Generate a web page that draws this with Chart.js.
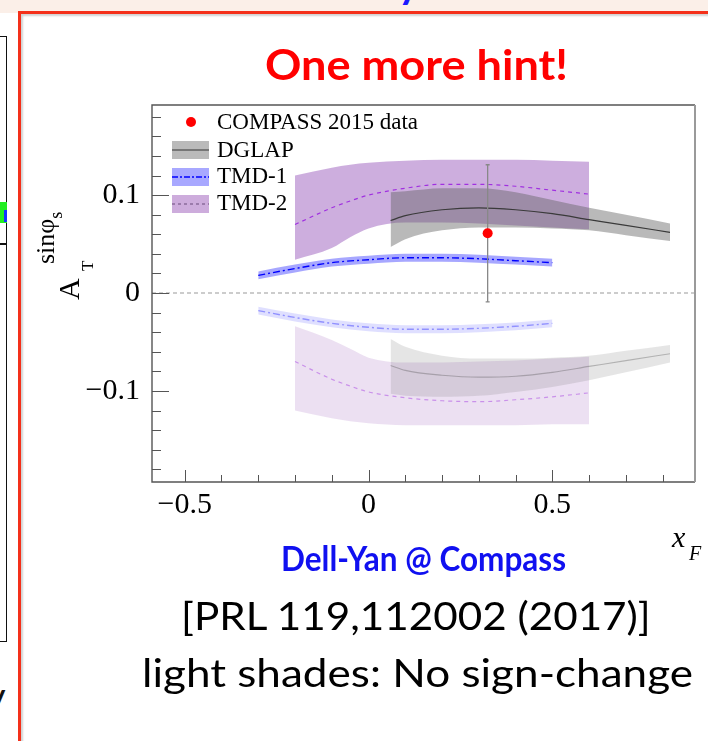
<!DOCTYPE html>
<html>
<head>
<meta charset="utf-8">
<script src="https://cdn.jsdelivr.net/npm/chart.js@4.4.1/dist/chart.umd.min.js"></script>
<style>
  body { margin: 0; width: 708px; height: 741px; position: relative; overflow: hidden; background: #fff; font-family: Lato, sans-serif; }
  .strip { position: absolute; left: 0; top: 0; width: 708px; height: 13px; background: #fbefe8; }
  .redbox { position: absolute; left: 18px; top: 11px; width: 720px; height: 760px; border-left: 3.5px solid #f4301a; border-top: 3.5px solid #f4301a; box-shadow: inset 2px 2px 2px rgba(0,0,0,0.18); }
  .leftframe { position: absolute; left: -4px; top: 36px; width: 9px; height: 604px; border: 1.8px solid #111; }
  .mark-green { position: absolute; left: 0; top: 202px; width: 7px; height: 21px; background: #22ee22; }
  .mark-blue { position: absolute; left: 4px; top: 210px; width: 3px; height: 12px; background: #1533ff; }
  .mark-line { position: absolute; left: 0; top: 243px; width: 7px; height: 2px; background: #111; }
  .cut { position: absolute; font: bold 40px Lato, sans-serif; line-height: 40px; white-space: nowrap; }
  #chart { position: absolute; left: 0; top: 0; }
  .txt { position: absolute; white-space: nowrap; transform-origin: 0 0; }
  .serif { font-family: "Liberation Serif", "Times New Roman", serif; position: absolute; white-space: nowrap; line-height: 1; color: #000; }
  .ytitle { position: absolute; left: 0; top: 300px; width: 110px; height: 100px; transform-origin: 0 0; transform: rotate(-90deg); }
  .legend .sw { position: absolute; }
</style>
</head>
<body>
<div class="strip"></div>
<div class="cut" style="left:398px; top:-37px; color:#1a1aff;">y</div>
<div class="redbox"></div>
<div class="leftframe"></div>
<div class="mark-green"></div>
<div class="mark-blue"></div>
<div class="mark-line"></div>
<div class="cut" style="left:-15px; top:676px; color:#111; font-weight:normal;">y</div>

<canvas id="chart" width="708" height="741"></canvas>

<div id="title" class="txt" style="color:#ff0000; font-weight:bold;">One more hint!</div>
<div id="sub1" class="txt" style="color:#1010f0; font-weight:bold;">Dell-Yan @ Compass</div>
<div id="sub2" class="txt" style="color:#000;">[PRL 119,112002 (2017)]</div>
<div id="sub3" class="txt" style="color:#000;">light shades: No sign-change</div>

<div class="ytitle">
  <span class="serif" style="left:0; top:54px; font-size:30px;">A</span>
  <span class="serif" style="left:29px; top:79px; font-size:17px;">T</span>
  <span class="serif" style="left:36px; top:33px; font-size:26px;">sinφ<span style="position:relative; top:8px; font-size:18px;">s</span></span>
</div>
<span class="serif" style="left:672px; top:522px; font-size:30px; font-style:italic;">x</span>
<span class="serif" style="left:689px; top:543px; font-size:20px; font-style:italic;">F</span>

<div class="legend">
  <svg class="sw" style="left:184px; top:115px;" width="14" height="14"><circle cx="7" cy="7" r="5" fill="#ff0000"/></svg>
  <span class="serif" style="left:217px; top:110px; font-size:23px;">COMPASS 2015 data</span>
  <svg class="sw" style="left:172px; top:141px;" width="37" height="18"><rect width="37" height="18" fill="#bababa"/><line x1="0" y1="9" x2="37" y2="9" stroke="#333" stroke-width="1.2"/></svg>
  <span class="serif" style="left:217px; top:138px; font-size:23px;">DGLAP</span>
  <svg class="sw" style="left:172px; top:168px;" width="37" height="18"><rect width="37" height="18" fill="#a8a8ff"/><line x1="0" y1="9" x2="37" y2="9" stroke="#0000ff" stroke-width="1.3" stroke-dasharray="6,2,2,2"/></svg>
  <span class="serif" style="left:217px; top:164px; font-size:23px;">TMD-1</span>
  <svg class="sw" style="left:172px; top:195px;" width="37" height="18"><rect width="37" height="18" fill="#cdacdc"/><line x1="0" y1="9" x2="37" y2="9" stroke="#6a4a7a" stroke-width="1.2" stroke-dasharray="3,3"/></svg>
  <span class="serif" style="left:217px; top:191px; font-size:23px;">TMD-2</span>
</div>

<script>
// measured data point
const compassX = [0.324];
const compassY = [0.061];
const compassErr = [0.07];

// DGLAP band (dark: sign change, light: no sign change)
const dglapX = [0.06, 0.1, 0.2, 0.3, 0.4, 0.5, 0.6, 0.7, 0.82];
const dglapMid = [0.074, 0.079, 0.085, 0.087, 0.085, 0.081, 0.075, 0.069, 0.062];
const dglapUp = [0.103, 0.104, 0.107, 0.107, 0.103, 0.095, 0.087, 0.080, 0.071];
const dglapLo = [0.047, 0.055, 0.064, 0.067, 0.067, 0.066, 0.064, 0.059, 0.053];
const dglapLightMid = [-0.074, -0.079, -0.084, -0.086, -0.085, -0.081, -0.075, -0.069, -0.062];
const dglapLightUp = [-0.047, -0.055, -0.064, -0.067, -0.067, -0.066, -0.064, -0.059, -0.053];
const dglapLightLo = [-0.103, -0.105, -0.106, -0.105, -0.101, -0.096, -0.089, -0.081, -0.071];

// TMD-1 band
const tmd1X = [-0.3, -0.2, -0.1, 0, 0.1, 0.2, 0.3, 0.4, 0.5];
const tmd1Mid = [0.018, 0.025, 0.031, 0.034, 0.036, 0.036, 0.035, 0.033, 0.031];
const tmd1Up = [0.022, 0.029, 0.035, 0.038, 0.040, 0.040, 0.039, 0.037, 0.035];
const tmd1Lo = [0.014, 0.021, 0.027, 0.030, 0.032, 0.032, 0.031, 0.029, 0.027];
const tmd1LightMid = [-0.018, -0.025, -0.031, -0.035, -0.037, -0.037, -0.036, -0.034, -0.031];
const tmd1LightUp = [-0.014, -0.021, -0.027, -0.031, -0.033, -0.033, -0.032, -0.030, -0.027];
const tmd1LightLo = [-0.022, -0.029, -0.035, -0.039, -0.041, -0.041, -0.040, -0.038, -0.035];

// TMD-2 band
const tmd2X = [-0.2, -0.1, -0.05, 0, 0.1, 0.2, 0.3, 0.4, 0.5, 0.6];
const tmd2Mid = [0.070, 0.087, 0.094, 0.100, 0.107, 0.111, 0.111, 0.109, 0.105, 0.101];
const tmd2Up = [0.120, 0.128, 0.131, 0.133, 0.135, 0.136, 0.136, 0.136, 0.135, 0.134];
const tmd2Lo = [0.034, 0.046, 0.057, 0.066, 0.072, 0.072, 0.071, 0.069, 0.067, 0.065];
const tmd2LightMid = [-0.070, -0.088, -0.095, -0.101, -0.107, -0.110, -0.111, -0.109, -0.106, -0.102];
const tmd2LightUp = [-0.034, -0.048, -0.057, -0.066, -0.071, -0.071, -0.070, -0.069, -0.067, -0.065];
const tmd2LightLo = [-0.120, -0.128, -0.131, -0.133, -0.135, -0.135, -0.135, -0.135, -0.134, -0.134];

// axes
const xTicks = [-0.5, 0, 0.5];
const xTickLabels = ['\u22120.5', '0', '0.5'];
const yTicks = [-0.1, 0, 0.1];
const yTickLabels = ['\u22120.1', '0', '0.1'];
const xMinor = [-0.5, -0.4, -0.3, -0.2, -0.1, 0, 0.1, 0.2, 0.3, 0.4, 0.5, 0.6, 0.7, 0.8];
const yMinor = [-0.18, -0.16, -0.14, -0.12, -0.1, -0.08, -0.06, -0.04, -0.02, 0, 0.02, 0.04, 0.06, 0.08, 0.1, 0.12, 0.14, 0.16, 0.18];

const pts = (xs, ys) => xs.map((v, i) => ({ x: v, y: ys[i] }));

// size text by cap height, then squeeze to the width seen on the slide
function fitText(id, weight, width, cap, cx, baseline) {
    const el = document.getElementById(id);
    const fs = cap / 0.7165;
    const c = document.createElement('canvas').getContext('2d');
    c.font = weight + ' ' + fs + 'px Lato';
    const m = c.measureText(el.textContent);
    const asc = m.fontBoundingBoxAscent;
    const desc = m.fontBoundingBoxDescent;
    el.style.fontSize = fs + 'px';
    el.style.lineHeight = fs + 'px';
    el.style.left = (cx - width / 2) + 'px';
    el.style.top = (baseline - ((fs - asc - desc) / 2 + asc)) + 'px';
    el.style.transform = 'scaleX(' + (width / m.width) + ')';
}

document.addEventListener('DOMContentLoaded', () => {
    fitText('title', 'bold', 303, 30, 416.5, 81);
    fitText('sub1', 'bold', 285, 25, 423.5, 572);
    fitText('sub2', 'normal', 471, 27, 416.5, 630);
    fitText('sub3', 'normal', 551, 28, 417.5, 687);

    function line(xs, ys, color, dash, width) {
        return { data: pts(xs, ys), borderColor: color, borderDash: dash, borderWidth: width,
                 pointRadius: 0, fill: false, cubicInterpolationMode: 'monotone' };
    }
    function edge(xs, ys, fillColor, withFill) {
        return { data: pts(xs, ys), borderWidth: 0, borderColor: 'rgba(0,0,0,0)', pointRadius: 0,
                 backgroundColor: fillColor, fill: withFill ? '+1' : false, cubicInterpolationMode: 'monotone' };
    }

    const datasets = [
        { label: 'COMPASS', data: pts(compassX, compassY), showLine: false, pointRadius: 5,
          pointBackgroundColor: '#ff0000', pointBorderWidth: 0 },
        line(tmd1X, tmd1Mid, '#0000ff', [7, 3, 2, 3], 1.4),
        edge(tmd1X, tmd1Up, 'rgba(80,80,255,0.5)', true),
        edge(tmd1X, tmd1Lo, null, false),
        line(dglapX, dglapMid, '#3a3a3a', [], 1.2),
        edge(dglapX, dglapUp, 'rgba(100,100,100,0.45)', true),
        edge(dglapX, dglapLo, null, false),
        line(tmd2X, tmd2Mid, '#a030e0', [4, 4], 1.2),
        edge(tmd2X, tmd2Up, 'rgba(150,85,185,0.48)', true),
        edge(tmd2X, tmd2Lo, null, false),
        line(tmd1X, tmd1LightMid, 'rgba(0,0,255,0.35)', [7, 3, 2, 3], 1.4),
        edge(tmd1X, tmd1LightUp, 'rgba(80,80,255,0.18)', true),
        edge(tmd1X, tmd1LightLo, null, false),
        line(dglapX, dglapLightMid, 'rgba(60,60,60,0.3)', [], 1.2),
        edge(dglapX, dglapLightUp, 'rgba(100,100,100,0.17)', true),
        edge(dglapX, dglapLightLo, null, false),
        line(tmd2X, tmd2LightMid, 'rgba(160,48,224,0.45)', [4, 4], 1.2),
        edge(tmd2X, tmd2LightUp, 'rgba(150,85,185,0.18)', true),
        edge(tmd2X, tmd2LightLo, null, false)
    ];

    const framePlugin = {
        id: 'frame',
        beforeDatasetsDraw(chart) {
            const { ctx, chartArea: a, scales: { y } } = chart;
            const y0 = y.getPixelForValue(0);
            ctx.save();
            ctx.strokeStyle = '#999';
            ctx.lineWidth = 1;
            ctx.setLineDash([4, 3]);
            ctx.beginPath();
            ctx.moveTo(a.left, y0);
            ctx.lineTo(a.right, y0);
            ctx.stroke();
            ctx.restore();
        },
        beforeDatasetDraw(chart, args) {
            if (args.index !== 0) return;
            const { ctx, scales: { x, y } } = chart;
            ctx.save();
            ctx.strokeStyle = '#888';
            ctx.lineWidth = 1.3;
            compassX.forEach((v, i) => {
                const px = x.getPixelForValue(v);
                const top = y.getPixelForValue(compassY[i] + compassErr[i]);
                const bot = y.getPixelForValue(compassY[i] - compassErr[i]);
                ctx.beginPath();
                ctx.moveTo(px, top);
                ctx.lineTo(px, bot);
                ctx.moveTo(px - 2, top);
                ctx.lineTo(px + 2, top);
                ctx.moveTo(px - 2, bot);
                ctx.lineTo(px + 2, bot);
                ctx.stroke();
            });
            ctx.restore();
        },
        afterDatasetsDraw(chart) {
            const { ctx, chartArea: a, scales: { x, y } } = chart;
            ctx.save();
            ctx.strokeStyle = '#555';
            ctx.lineWidth = 1;
            ctx.beginPath();
            xMinor.forEach(v => {
                const px = Math.round(x.getPixelForValue(v)) + 0.5;
                const len = xTicks.includes(v) ? 12 : 7;
                ctx.moveTo(px, a.bottom);
                ctx.lineTo(px, a.bottom - len);
            });
            yMinor.forEach(v => {
                const py = Math.round(y.getPixelForValue(v)) + 0.5;
                const len = yTicks.includes(v) ? 17 : 9;
                ctx.moveTo(a.left, py);
                ctx.lineTo(a.left + len, py);
            });
            ctx.stroke();
            ctx.lineWidth = 1.4;
            ctx.strokeStyle = '#555';
            ctx.beginPath();
            ctx.moveTo(a.right, a.top);
            ctx.lineTo(a.left, a.top);
            ctx.lineTo(a.left, a.bottom);
            ctx.lineTo(a.right, a.bottom);
            ctx.stroke();
            ctx.strokeStyle = '#9a9a9a';
            ctx.lineWidth = 2;
            ctx.beginPath();
            ctx.moveTo(a.right, a.top);
            ctx.lineTo(a.right, a.bottom);
            ctx.stroke();
            ctx.restore();
        }
    };

    const tickFont = { family: 'Liberation Serif', size: 30 };

    new Chart(document.getElementById('chart').getContext('2d'), {
        type: 'line',
        data: { datasets: datasets },
        options: {
            responsive: false,
            animation: false,
            devicePixelRatio: 1,
            layout: { padding: { left: 82, right: 13, top: 105, bottom: 214 } },
            plugins: {
                legend: { display: false },
                tooltip: { enabled: false },
                filler: { propagate: false }
            },
            scales: {
                x: {
                    type: 'linear',
                    min: -0.589,
                    max: 0.888,
                    grid: { display: false, drawTicks: false, tickLength: 0 },
                    border: { display: false },
                    afterBuildTicks: s => { s.ticks = xTicks.map(v => ({ value: v })); },
                    afterFit: s => { s.height = 45; },
                    ticks: {
                        padding: 5, color: '#000', font: tickFont, maxRotation: 0, autoSkip: false,
                        callback: (v, i) => xTickLabels[i]
                    }
                },
                y: {
                    type: 'linear',
                    min: -0.193,
                    max: 0.192,
                    grid: { display: false, drawTicks: false, tickLength: 0 },
                    border: { display: false },
                    afterBuildTicks: s => { s.ticks = yTicks.map(v => ({ value: v })); },
                    afterFit: s => { s.width = 70; },
                    ticks: {
                        padding: 12, color: '#000', font: tickFont, autoSkip: false,
                        callback: (v, i) => yTickLabels[i]
                    }
                }
            }
        },
        plugins: [framePlugin]
    });
});
</script>
</body>
</html>
